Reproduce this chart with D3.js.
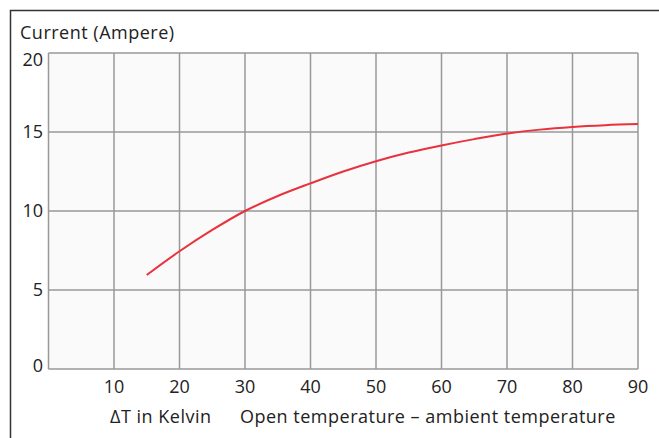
<!DOCTYPE html>
<html>
<head>
<meta charset="utf-8">
<script src="https://cdn.jsdelivr.net/npm/d3@7"></script>
<style>
  body { margin: 0; background: #fff; }
  svg text { font-family: "Open Sans", "Noto Sans", sans-serif; fill: #222; }
</style>
</head>
<body>
<svg class="chart" width="659" height="438"></svg>
<script>
// values
const deltaT = [15, 20, 25, 30, 35, 40, 45, 50, 55, 60, 65, 70, 75, 80, 85, 90];
const current = [5.95, 7.45, 8.8, 10.0, 10.95, 11.75, 12.5, 13.15, 13.7, 14.15, 14.55, 14.9, 15.15, 15.32, 15.43, 15.5];
const xTicks = [10, 20, 30, 40, 50, 60, 70, 80, 90];
const yTicks = [0, 5, 10, 15, 20];

const svg = d3.select(`.chart`);

const x = d3.scaleLinear().domain([0, 90]).range([48.5, 638]);
const y = d3.scaleLinear().domain([0, 20]).range([369, 53]);

// frame (top + left only)
svg.append(`path`)
  .attr(`d`, `M10.5,438 V10.5 H659`)
  .attr(`fill`, `none`)
  .attr(`stroke`, `#333`)
  .attr(`stroke-width`, 1.5);

svg.append(`rect`)
  .attr(`x`, x(0))
  .attr(`y`, y(20))
  .attr(`width`, x(90) - x(0))
  .attr(`height`, y(0) - y(20))
  .attr(`fill`, `#fafafa`);

// grid
svg.append(`g`)
  .selectAll(`line`)
  .data(yTicks)
  .enter().append(`line`)
  .attr(`x1`, x(0))
  .attr(`x2`, x(90))
  .attr(`y1`, d => y(d))
  .attr(`y2`, d => y(d))
  .attr(`stroke`, `#999`)
  .attr(`stroke-width`, 1.5);

svg.append(`g`)
  .selectAll(`line`)
  .data([0].concat(xTicks))
  .enter().append(`line`)
  .attr(`x1`, d => x(d))
  .attr(`x2`, d => x(d))
  .attr(`y1`, y(20))
  .attr(`y2`, y(0))
  .attr(`stroke`, `#999`)
  .attr(`stroke-width`, 1.5);

// tick labels
svg.append(`g`)
  .selectAll(`text`)
  .data(yTicks)
  .enter().append(`text`)
  .attr(`x`, 43)
  .attr(`y`, d => y(d) + (d === 20 ? 7 : d === 0 ? -3 : 0))
  .attr(`dy`, `.36em`)
  .attr(`text-anchor`, `end`)
  .attr(`font-size`, `18px`)
  .text(d => d);

svg.append(`g`)
  .selectAll(`text`)
  .data(xTicks)
  .enter().append(`text`)
  .attr(`x`, d => x(d))
  .attr(`y`, 393)
  .attr(`text-anchor`, `middle`)
  .attr(`font-size`, `18px`)
  .text(d => d);

const label = (t, px, py) => svg.append(`text`)
  .attr(`x`, px)
  .attr(`y`, py)
  .attr(`font-size`, `18px`)
  .attr(`letter-spacing`, `0.5px`)
  .text(t);

label(`Current (Ampere)`, 20, 39);
label(`ΔT in Kelvin`, 110, 423);
label(`Open temperature – ambient temperature`, 240, 423);

// curve
const line = d3.line()
  .x((d, i) => x(deltaT[i]))
  .y(d => y(d))
  .curve(d3.curveCatmullRom);

svg.append(`path`)
  .datum(current)
  .attr(`d`, line)
  .attr(`fill`, `none`)
  .attr(`stroke`, `#e8323e`)
  .attr(`stroke-width`, 2);
</script>
</body>
</html>
